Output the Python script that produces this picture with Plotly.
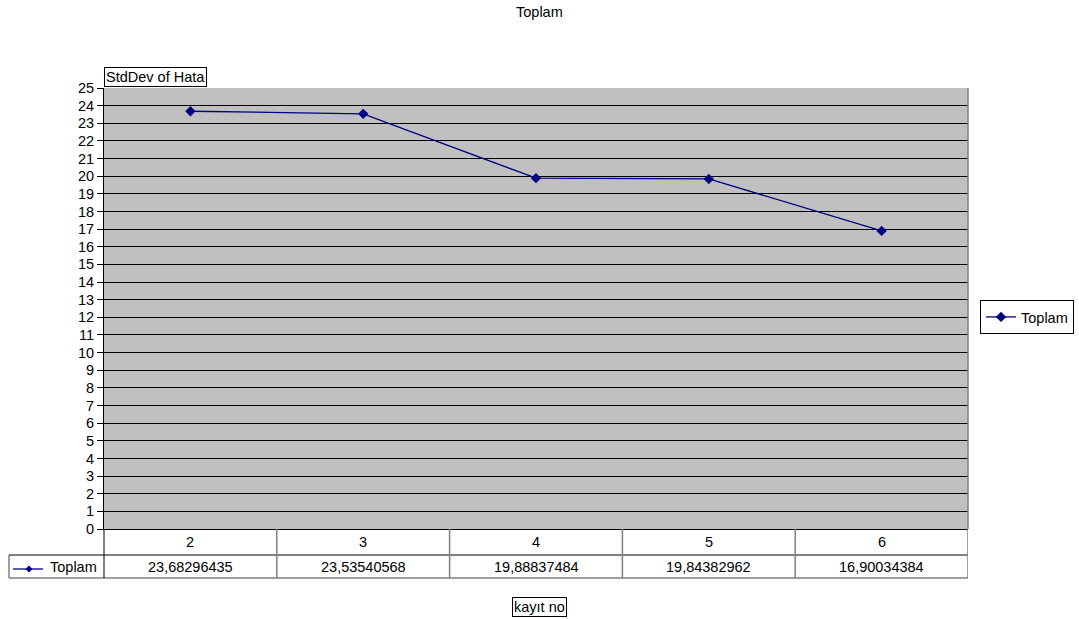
import plotly.graph_objects as go

# Data
categories = ["2", "3", "4", "5", "6"]
values = [23.68296435, 23.53540568, 19.88837484, 19.84382962, 16.90034384]
series_name = "Toplam"
y_ticks = list(range(0, 26))

W, H = 1079, 619
NAVY = "#000080"
FONT = "Liberation Sans, Arial, sans-serif"
FS = 14.5


def px(p):
    return p / W


def py(p):
    return 1 - p / H


def txt():
    return dict(family=FONT, size=FS, color="black")


# plot-area and table geometry (pixels)
L, R, T, B = 104, 968, 88, 529
ROW1, ROW2 = 555, 578
TABLE_LEFT = 9

fig = go.Figure()
fig.add_trace(go.Scatter(
    x=categories, y=values, name=series_name, mode="lines+markers",
    line=dict(color=NAVY, width=1.3),
    marker=dict(symbol="diamond", size=8, color=NAVY),
))

shapes = []
# table grid lines
shapes.append(dict(type="line", xref="paper", yref="paper", x0=px(TABLE_LEFT), x1=px(R),
                   y0=py(ROW1), y1=py(ROW1), line=dict(color="black", width=1)))
shapes.append(dict(type="line", xref="paper", yref="paper", x0=px(TABLE_LEFT), x1=px(R),
                   y0=py(ROW2), y1=py(ROW2), line=dict(color="#808080", width=1.5)))
shapes.append(dict(type="line", xref="paper", yref="paper", x0=px(L), x1=px(L),
                   y0=py(B), y1=py(ROW2), line=dict(color="black", width=1)))
shapes.append(dict(type="line", xref="paper", yref="paper", x0=px(TABLE_LEFT), x1=px(TABLE_LEFT),
                   y0=py(ROW1), y1=py(ROW2), line=dict(color="#404040", width=1)))
for i in range(1, len(categories) + 1):
    shapes.append(dict(type="line", xref="x", yref="paper", x0=i - 0.5, x1=i - 0.5,
                       y0=py(B), y1=py(ROW2), line=dict(color="#808080", width=1.5)))
# plot-area right border
shapes.append(dict(type="line", xref="paper", yref="paper", x0=px(R), x1=px(R),
                   y0=py(T), y1=py(B), line=dict(color="#808080", width=1.5)))
# legend key inside the table
shapes.append(dict(type="line", xref="paper", yref="paper", x0=px(13), x1=px(43),
                   y0=py(569), y1=py(569), line=dict(color=NAVY, width=1.3)))
dx, dy = 3.5 / W, 3.5 / H
cx, cy = px(29), py(569)
shapes.append(dict(type="path", xref="paper", yref="paper",
                   path=f"M {cx - dx} {cy} L {cx} {cy + dy} L {cx + dx} {cy} L {cx} {cy - dy} Z",
                   fillcolor=NAVY, line=dict(color=NAVY, width=0)))

annotations = []
for i, (c, v) in enumerate(zip(categories, values)):
    annotations.append(dict(x=i, xref="x", y=py(542), yref="paper", yanchor="middle",
                            text=c, showarrow=False, font=txt()))
    annotations.append(dict(x=i, xref="x", y=py(567), yref="paper", yanchor="middle",
                            text=f"{v:.8f}".replace(".", ","), showarrow=False, font=txt()))
annotations.append(dict(x=px(48), y=py(567), xref="paper", yref="paper", xanchor="left",
                        yanchor="middle", text=series_name, showarrow=False, font=txt()))
# axis titles in boxes
annotations.append(dict(x=px(L), y=py(T - 1), xref="paper", yref="paper", xanchor="left",
                        yanchor="bottom", text="StdDev of Hata", showarrow=False,
                        bordercolor="black", borderwidth=1, borderpad=1, bgcolor="white",
                        font=txt()))
annotations.append(dict(x=px(539), y=py(607), xref="paper", yref="paper", yanchor="middle",
                        text="kayıt no", showarrow=False,
                        bordercolor="black", borderwidth=1, borderpad=1, font=txt()))
# chart title
annotations.append(dict(x=px(539), y=py(12), xref="paper", yref="paper", yanchor="middle",
                        text="Toplam", showarrow=False, font=txt()))

fig.update_layout(
    width=W, height=H,
    margin=dict(l=0, r=0, t=0, b=0, pad=0),
    paper_bgcolor="white",
    plot_bgcolor="#C0C0C0",
    font=txt(),
    showlegend=True,
    legend=dict(x=px(980), y=py(300), xanchor="left", yanchor="top",
                bordercolor="black", borderwidth=1, bgcolor="white",
                font=txt(), itemwidth=30, tracegroupgap=0),
    xaxis=dict(domain=[px(L), px(R)], type="category", range=[-0.5, len(categories) - 0.5],
               showticklabels=False, ticks="", showgrid=False, zeroline=False,
               showline=True, linecolor="black", linewidth=1, automargin=False),
    yaxis=dict(domain=[py(B), py(T)], range=[0, 25], tickvals=y_ticks,
               ticks="outside", ticklen=6, tickcolor="black",
               showgrid=True, gridcolor="black", gridwidth=1, zeroline=False,
               showline=True, linecolor="black", linewidth=1, automargin=False,
               tickfont=txt()),
    shapes=shapes,
    annotations=annotations,
)

fig.write_html("out.html")
